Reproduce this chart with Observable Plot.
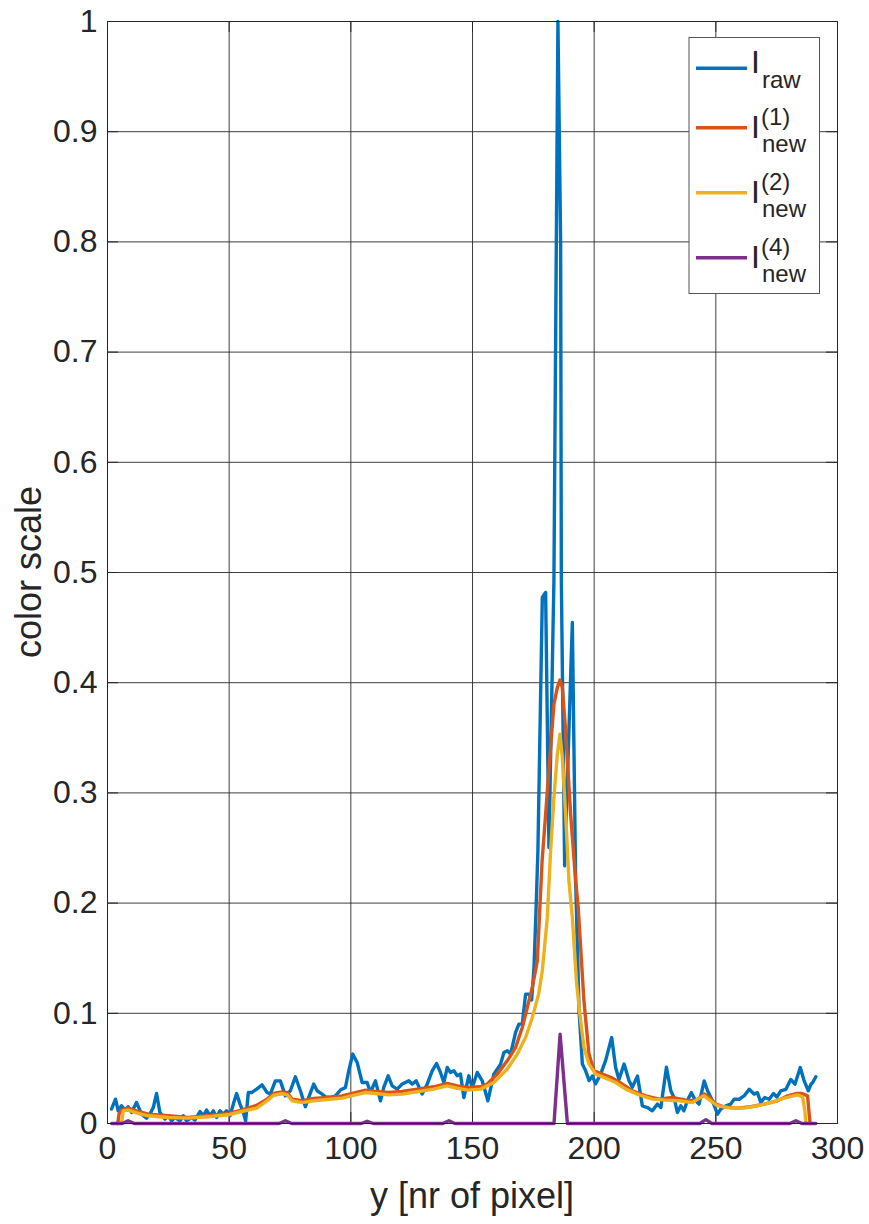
<!DOCTYPE html>
<html><head><meta charset="utf-8">
<script src="https://cdn.jsdelivr.net/npm/d3@7"></script>
<script src="https://cdn.jsdelivr.net/npm/@observablehq/plot@0.6"></script>
<style>html,body{margin:0;padding:0;background:#fff;}</style>
</head><body><div id="chart"></div>
<script>
// ---------- data ----------
const xTicks = [0, 50, 100, 150, 200, 250, 300];
const yTicks = [0, 0.1, 0.2, 0.3, 0.4, 0.5, 0.6, 0.7, 0.8, 0.9, 1];
const xLabel = "y [nr of pixel]";
const yLabel = "color scale";

const seriesColors = ["#0072BD", "#D95319", "#EDB120", "#7E2F8E"];
const legendMain = ["I", "I", "I", "I"];
const legendSub = ["raw", "new", "new", "new"];
const legendSup = ["", "(1)", "(2)", "(4)"];

// I_raw
const raw = [
[1.65,0.0131],[3.29,0.0221],[4.4,0.0115],[5.76,0.0161],[7.16,0.0122],[8.5,0.0152],[9.87,0.0100],[11.93,0.0191],[13.99,0.0085],[16.04,0.0049],[17.44,0.0085],[18.8,0.0145],[20.16,0.0272],[21.55,0.0100],[23.61,0.0040],[24.97,0.0070],[26.33,0.0025],[27.73,0.0054],[29.78,0.0025],[31.14,0.0070],[32.5,0.0025],[34.55,0.0054],[35.95,0.0031],[38.01,0.0109],[39.37,0.0070],[40.72,0.0122],[42.12,0.0070],[43.48,0.0115],[44.84,0.0054],[46.24,0.0115],[47.59,0.0085],[48.95,0.0115],[50.35,0.0070],[51.71,0.0176],[53.06,0.0272],[54.46,0.0176],[55.82,0.0100],[56.77,0.0025],[57.88,0.0281],[59.23,0.0281],[61.29,0.0312],[63.51,0.0351],[65.57,0.0281],[66.93,0.0267],[68.98,0.0387],[71.04,0.0387],[73.1,0.0251],[75.15,0.0297],[77.21,0.0424],[79.27,0.0297],[81.32,0.0152],[82.68,0.0236],[84.74,0.0358],[86.14,0.0297],[88.19,0.0267],[89.55,0.0242],[91.61,0.0236],[93.67,0.0251],[95.72,0.0303],[97.78,0.0327],[99.14,0.0478],[100.78,0.0630],[102.59,0.0554],[104.65,0.0372],[106.7,0.0372],[108.06,0.0281],[110.12,0.0387],[112.18,0.0206],[113.53,0.0327],[115.34,0.0433],[116.99,0.0342],[119.05,0.0312],[121.1,0.0358],[123.82,0.0387],[125.21,0.0358],[126.86,0.0387],[129.33,0.0267],[131.39,0.0358],[133.44,0.0478],[135.21,0.0544],[136.86,0.0463],[138.21,0.0372],[139.61,0.0508],[140.97,0.0463],[142.33,0.0478],[143.73,0.0433],[145.08,0.0448],[146.44,0.0236],[148.5,0.0433],[149.89,0.0327],[151.95,0.0463],[154.01,0.0387],[156.31,0.0206],[158.78,0.0448],[161.54,0.0539],[162.9,0.0644],[164.29,0.0660],[165.65,0.0630],[167.71,0.0826],[169.07,0.0902],[170.46,0.0902],[171.82,0.1174],[173.18,0.1174],[174.3,0.112],[175.24,0.140],[176.1,0.193],[176.88,0.2475],[178.69,0.4773],[180.05,0.4819],[181.41,0.2505],[183.46,0.4925],[184.45,0.7994],[185.11,1.0],[186.22,0.7994],[186.51,0.4925],[187.87,0.2338],[191.03,0.4546],[192.39,0.2202],[193.8,0.102],[195.15,0.0539],[196.5,0.0478],[197.9,0.039],[199.3,0.043],[200.6,0.036],[202.7,0.045],[204.7,0.057],[207.2,0.078],[208.8,0.051],[210.2,0.040],[212.3,0.054],[214.3,0.039],[215.7,0.033],[217.8,0.043],[219.8,0.016],[221.9,0.0145],[223.9,0.0115],[226.0,0.0176],[227.4,0.0145],[229.7,0.051],[231.5,0.0297],[232.8,0.0236],[234.2,0.010],[235.6,0.016],[236.9,0.0115],[238.3,0.0206],[239.9,0.028],[241.7,0.0206],[243.1,0.0176],[245.2,0.0387],[246.6,0.0297],[248.6,0.0206],[250.7,0.0085],[252.0,0.013],[254.1,0.016],[256.1,0.0176],[257.5,0.022],[259.6,0.022],[261.6,0.025],[263.7,0.031],[265.7,0.0267],[267.1,0.028],[268.5,0.019],[270.1,0.0236],[271.9,0.022],[273.7,0.0272],[275.1,0.024],[276.7,0.0297],[278.8,0.031],[280.8,0.040],[282.5,0.0357],[284.7,0.0508],[286.3,0.0387],[288.0,0.0297],[289.1,0.0357],[289.8,0.0372],[291.1,0.0424]
];

// I_new^(1)
const new1 = [
[4.2,0],[4.8,0.009],[5.76,0.0122],[8.5,0.014],[12.63,0.0109],[16.74,0.0085],[24.97,0.007],[33.2,0.0054],[41.42,0.007],[49.65,0.0091],[55.12,0.0122],[61.37,0.0165],[65.57,0.0221],[68.28,0.0272],[71.04,0.0285],[73.92,0.0281],[75.85,0.0221],[79.97,0.0206],[84.74,0.0227],[90.25,0.0236],[96.42,0.0251],[101.89,0.0281],[106.0,0.0303],[110.12,0.029],[115.59,0.0281],[121.1,0.029],[127.27,0.0312],[134.1,0.0333],[139.61,0.0363],[143.73,0.0342],[147.84,0.0327],[153.31,0.0333],[156.07,0.0358],[160.18,0.0448],[164.29,0.0569],[167.71,0.069],[170.46,0.0871],[172.52,0.1053],[174.58,0.1234],[176.63,0.1476],[178.6,0.238],[182.1,0.341],[183.46,0.3806],[184.86,0.3956],[185.93,0.4024],[186.92,0.3956],[188.27,0.3563],[190.33,0.2808],[192.39,0.2202],[193.4,0.1975],[195.8,0.1113],[197.86,0.063],[199.92,0.0478],[203.37,0.0448],[207.49,0.0412],[211.6,0.0358],[215.72,0.0297],[221.19,0.0251],[226.66,0.0221],[232.17,0.0236],[237.64,0.0212],[241.75,0.0206],[245.17,0.0267],[247.22,0.0242],[249.98,0.0176],[253.39,0.0152],[258.9,0.014],[264.37,0.0152],[269.85,0.0176],[275.36,0.0206],[279.47,0.0251],[282.9,0.0272],[285.4,0.0272],[287.7,0.0251],[288.36,0.0085],[288.77,0]
];

// I_new^(2)
const new2 = [
[5.76,0],[6.46,0.0115],[8.5,0.0122],[12.63,0.0091],[16.74,0.007],[24.97,0.0054],[33.2,0.0049],[41.42,0.0061],[49.65,0.0079],[55.12,0.0109],[61.29,0.014],[65.57,0.0206],[68.28,0.0256],[71.74,0.027],[73.92,0.026],[75.85,0.0206],[79.97,0.019],[84.74,0.0206],[90.25,0.0218],[96.42,0.023],[101.89,0.026],[106.0,0.0281],[110.12,0.0272],[115.59,0.026],[121.1,0.0267],[127.27,0.0288],[134.1,0.0312],[139.61,0.0342],[143.73,0.032],[147.84,0.0303],[153.31,0.0312],[158.78,0.0372],[164.29,0.0494],[168.41,0.063],[171.82,0.078],[174.58,0.0962],[177.17,0.1174],[178.69,0.1386],[180.75,0.187],[182.1,0.2475],[183.46,0.2958],[184.86,0.335],[185.93,0.3533],[186.92,0.332],[188.27,0.2808],[189.63,0.2202],[191.03,0.187],[192.8,0.1265],[194.44,0.0932],[195.8,0.069],[197.86,0.0539],[200.62,0.0448],[204.73,0.0412],[208.84,0.0372],[212.96,0.0312],[218.43,0.026],[223.94,0.0221],[229.41,0.0212],[234.88,0.0206],[240.4,0.019],[242.45,0.0221],[245.17,0.0251],[247.92,0.0206],[250.68,0.0161],[256.15,0.014],[261.62,0.014],[267.13,0.0161],[272.6,0.019],[278.07,0.023],[283.59,0.026],[285.64,0.0242],[286.59,0.0115],[287.0,0]
];

// I_new^(4)
const new4 = [
[1.7,0],[6.0,0],[8.5,0.0025],[11.0,0],[70.5,0],[73.1,0.0025],[75.7,0],[104.2,0],[106.7,0.002],[109.2,0],[137.8,0],[140.3,0.0025],[142.8,0],[183.5,0],[186.0,0.081],[189.0,0],[243.4,0],[245.9,0.0035],[248.4,0],[280.4,0],[282.9,0.0025],[285.4,0],[291.1,0]
];

const seriesData = [raw, new1, new2, new4];

// ---------- layout ----------
const W = 869, H = 1224;
const mL = 107, mR = 32, mT = 21, mB = 101;
const tickPx = 11;
const xSpan = 300, ySpan = 1;
const tickLenX = tickPx * xSpan / (W - mL - mR);
const tickLenY = tickPx * ySpan / (H - mT - mB);
const axisColor = "#262626";
const font = "'Liberation Sans', Arial, Helvetica, sans-serif";

const chart = Plot.plot({
  width: W, height: H,
  marginLeft: mL, marginRight: mR, marginTop: mT, marginBottom: mB,
  style: {fontFamily: font, background: "white", color: axisColor},
  x: {domain: [0, 300]},
  y: {domain: [0, 1]},
  marks: [
    Plot.gridX(xTicks, {stroke: "#2a2a2a", strokeOpacity: 0.9, strokeWidth: 1}),
    Plot.gridY(yTicks, {stroke: "#2a2a2a", strokeOpacity: 0.9, strokeWidth: 1}),
    Plot.ruleY(yTicks, {y: d => d, x1: 0, x2: tickLenX, stroke: axisColor}),
    Plot.ruleY(yTicks, {y: d => d, x1: 300 - tickLenX, x2: 300, stroke: axisColor}),
    Plot.ruleX(xTicks, {x: d => d, y1: 0, y2: tickLenY, stroke: axisColor}),
    Plot.ruleX(xTicks, {x: d => d, y1: 1 - tickLenY, y2: 1, stroke: axisColor}),
    Plot.axisX(xTicks, {tickSize: 0, tickPadding: 13, fontSize: 32, label: null, tickFormat: d => String(d)}),
    Plot.axisY(yTicks, {tickSize: 0, tickPadding: 10, fontSize: 32, label: null, tickFormat: d => String(+d.toFixed(1))}),
    ...seriesData.map((s, i) => Plot.line(s, {x: d => d[0], y: d => d[1], stroke: seriesColors[i], strokeWidth: 3.4, strokeLinejoin: "round"})),
    Plot.frame({stroke: axisColor, strokeWidth: 1})
  ]
});

document.getElementById("chart").appendChild(chart);

// ---------- axis labels & legend ----------
const svg = d3.select(chart);
svg.append("text")
  .attr("x", (mL + W - mR) / 2).attr("y", 1208)
  .attr("text-anchor", "middle").attr("font-size", 36).attr("font-family", font)
  .attr("fill", axisColor).text(xLabel);
svg.append("text")
  .attr("transform", `translate(41,${(mT + H - mB) / 2}) rotate(-90)`)
  .attr("text-anchor", "middle").attr("font-size", 36).attr("font-family", font)
  .attr("fill", axisColor).text(yLabel);

const lg = svg.append("g").attr("font-family", font).attr("fill", axisColor).attr("text-anchor", "start");
lg.append("rect").attr("x", 689).attr("y", 37.5).attr("width", 130.5).attr("height", 256)
  .attr("fill", "white").attr("stroke", "#555").attr("stroke-width", 1);
const rowY = [68.3, 127.7, 192.7, 257.7];
seriesColors.forEach((c, i) => {
  const y = rowY[i];
  lg.append("line").attr("x1", 696).attr("x2", 747).attr("y1", y).attr("y2", y)
    .attr("stroke", c).attr("stroke-width", 3.4);
  const hasSup = legendSup[i] !== "";
  const base = hasSup ? y + 10 : y + 5;
  lg.append("text").attr("text-anchor", "start").attr("x", 751).attr("y", base).attr("font-size", 32).text(legendMain[i]);
  if (hasSup) lg.append("text").attr("text-anchor", "start").attr("x", 761).attr("y", base - 13).attr("font-size", 24).text(legendSup[i]);
  lg.append("text").attr("text-anchor", "start").attr("x", 762).attr("y", base + (hasSup ? 14 : 15)).attr("font-size", 24).text(legendSub[i]);
});
</script></body></html>
